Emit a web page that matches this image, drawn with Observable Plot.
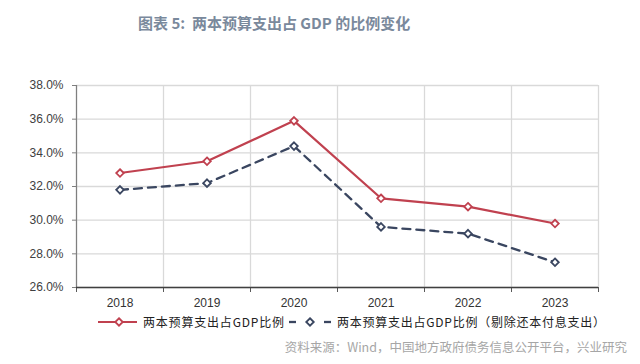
<!DOCTYPE html>
<html><head><meta charset="utf-8">
<script src="https://cdn.jsdelivr.net/npm/d3@7"></script>
<script src="https://cdn.jsdelivr.net/npm/@observablehq/plot@0.6"></script>
<style>
body{margin:0;background:#fff;width:640px;height:364px;overflow:hidden;font-family:"Noto Sans CJK SC","Noto Sans",sans-serif;}
#title{height:45px;line-height:45px;padding-left:138px;font-size:15px;font-weight:bold;color:#7a899c;white-space:nowrap;}
#legend{height:20px;position:relative;font-size:12px;color:#222;white-space:nowrap;}
#source{height:20px;line-height:20px;margin-top:5px;text-align:right;padding-right:13px;font-size:12.5px;color:#a6a6a6;white-space:nowrap;}
svg{display:block}
</style></head>
<body>
<div id="title">图表 5:&nbsp; 两本预算支出占 GDP 的比例变化</div>
<div id="chart"></div>
<div id="legend"></div>
<div id="source">资料来源：Wind，中国地方政府债务信息公开平台，兴业研究</div>
<script>
const years = ["2018","2019","2020","2021","2022","2023"];
const total = [32.8, 33.5, 35.9, 31.3, 30.8, 29.8];
const excl  = [31.8, 32.2, 34.4, 29.6, 29.2, 27.5];
const seriesNames = ["两本预算支出占GDP比例", "两本预算支出占GDP比例（剔除还本付息支出）"];
const yTicks = [26, 28, 30, 32, 34, 36, 38];

const red = "#c0414f", blue = "#3a4660";
const rows = years.map((y, i) => ({i: i + 0.5, year: y, total: total[i], excl: excl[i]}));
const bounds = d3.range(years.length + 1);
const centers = rows.map(d => d.i);

const chart = Plot.plot({
  width: 640, height: 267,
  marginLeft: 76, marginRight: 42, marginTop: 40, marginBottom: 25,
  style: {fontFamily: "'Liberation Sans', Arial, sans-serif", fontSize: "12px", color: "#404040"},
  x: {domain: [0, years.length], label: null},
  y: {domain: [26, 38], label: null},
  marks: [
    Plot.ruleY(yTicks, {stroke: "#d9d9d9", strokeWidth: 1.3}),
    Plot.ruleX(bounds, {stroke: "#d9d9d9", strokeWidth: 1.3}),
    Plot.axisY(yTicks, {tickSize: 4, tickPadding: 9, tickFormat: d => d.toFixed(1) + "%", stroke: "#7f7f7f", fill: "#404040", label: null}),
    Plot.axisX(centers, {tickSize: 0, tickPadding: 11, tickFormat: d => years[Math.floor(d)], fill: "#333", label: null}),
    Plot.axisX(bounds, {tickSize: 5, tickFormat: () => "", stroke: "#595959", label: null}),
    Plot.ruleX([0], {stroke: "#7f7f7f", strokeWidth: 1.2}),
    Plot.ruleY([26], {stroke: "#404040", strokeWidth: 1.3}),
    Plot.lineY(rows, {x: "i", y: "excl", stroke: blue, strokeWidth: 2.3, strokeDasharray: "8,6"}),
    Plot.lineY(rows, {x: "i", y: "total", stroke: red, strokeWidth: 2.2}),
    Plot.dot(rows, {x: "i", y: "excl", symbol: "diamond2", r: 3.4, fill: "white", stroke: blue, strokeWidth: 1.8}),
    Plot.dot(rows, {x: "i", y: "total", symbol: "diamond2", r: 3.4, fill: "white", stroke: red, strokeWidth: 1.8})
  ]
});
document.getElementById("chart").appendChild(chart);

// legend
const lg = d3.select("#legend");
const ls = lg.append("svg").attr("width", 640).attr("height", 20).style("position", "absolute").style("left", 0).style("top", 0);
const dia = d3.symbol(d3.symbolDiamond2, 36)();
ls.append("line").attr("x1", 98).attr("x2", 137).attr("y1", 10).attr("y2", 10).attr("stroke", red).attr("stroke-width", 2.2);
ls.append("path").attr("d", dia).attr("transform", "translate(119,10)").attr("fill", "white").attr("stroke", red).attr("stroke-width", 1.8);
ls.append("line").attr("x1", 289).attr("x2", 296).attr("y1", 10).attr("y2", 10).attr("stroke", blue).attr("stroke-width", 2.3);
ls.append("line").attr("x1", 324).attr("x2", 331).attr("y1", 10).attr("y2", 10).attr("stroke", blue).attr("stroke-width", 2.3);
ls.append("path").attr("d", dia).attr("transform", "translate(310,10)").attr("fill", "white").attr("stroke", blue).attr("stroke-width", 1.8);
ls.append("text").attr("x", 143).attr("y", 14.5).attr("font-size", 12).attr("fill", "#222").attr("textLength", 141).attr("lengthAdjust", "spacing").text(seriesNames[0]);
ls.append("text").attr("x", 337).attr("y", 14.5).attr("font-size", 12).attr("fill", "#222").attr("textLength", 268).attr("lengthAdjust", "spacing").text(seriesNames[1]);
</script>
</body></html>
